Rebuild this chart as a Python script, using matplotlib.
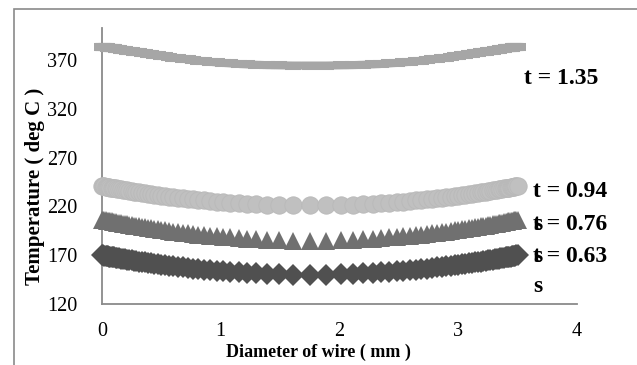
import matplotlib
matplotlib.use("Agg")
import matplotlib.pyplot as plt
from matplotlib.patches import Rectangle

# ---- data ----
diameter_left = [0, 0.01, 0.02, 0.03, 0.04, 0.05, 0.06, 0.07, 0.08, 0.09, 0.10,
                 0.115, 0.13, 0.145, 0.16, 0.175, 0.19, 0.21, 0.23, 0.25, 0.27, 0.29, 0.31,
                 0.335, 0.36, 0.385, 0.41, 0.44, 0.47, 0.50, 0.53, 0.565, 0.60, 0.64, 0.68,
                 0.72, 0.765, 0.81, 0.86, 0.91, 0.965, 1.02, 1.08, 1.15, 1.22, 1.30, 1.39,
                 1.49, 1.61, 1.75]
diameter_right = [1.89, 2.01, 2.11, 2.20, 2.28, 2.35, 2.42, 2.48, 2.535, 2.59, 2.64, 2.69,
                  2.735, 2.78, 2.82, 2.86, 2.90, 2.935, 2.97, 3.00, 3.03, 3.06, 3.09, 3.115,
                  3.14, 3.165, 3.19, 3.21, 3.23, 3.25, 3.27, 3.29, 3.31, 3.325, 3.34, 3.355,
                  3.37, 3.385, 3.40, 3.41, 3.42, 3.43, 3.44, 3.45, 3.46, 3.47, 3.48, 3.49, 3.50]

t135_left = [383.5, 383.4, 383.3, 383.2, 383.1, 383.0, 382.9, 382.7, 382.5, 382.3, 382.1,
             381.8, 381.5, 381.2, 380.9, 380.6, 380.3, 379.9, 379.5, 379.1, 378.7, 378.3,
             377.9, 377.4, 376.9, 376.5, 376.0, 375.4, 374.9, 374.3, 373.8, 373.2, 372.6,
             372.0, 371.4, 370.8, 370.1, 369.5, 368.9, 368.3, 367.7, 367.2, 366.7, 366.1,
             365.7, 365.3, 364.9, 364.7, 364.5, 364.5]
t135_right = [364.5, 364.7, 364.9, 365.3, 365.7, 366.1, 366.7, 367.2, 367.7, 368.3, 368.9,
              369.5, 370.1, 370.8, 371.4, 372.0, 372.6, 373.2, 373.8, 374.3, 374.9, 375.4,
              376.0, 376.5, 376.9, 377.4, 377.9, 378.3, 378.7, 379.1, 379.5, 379.9, 380.3,
              380.6, 380.9, 381.2, 381.5, 381.8, 382.1, 382.3, 382.5, 382.7, 382.9, 383.0,
              383.1, 383.2, 383.3, 383.4, 383.5]

t094_left = [241.0, 240.8, 240.6, 240.3, 240.1, 239.9, 239.7, 239.4, 239.2, 239.0, 238.8,
             238.5, 238.1, 237.8, 237.5, 237.2, 236.9, 236.5, 236.1, 235.7, 235.3, 234.9,
             234.5, 234.1, 233.6, 233.2, 232.7, 232.2, 231.7, 231.2, 230.7, 230.2, 229.6,
             229.1, 228.5, 227.9, 227.3, 226.8, 226.2, 225.6, 225.0, 224.5, 223.9, 223.4,
             222.8, 222.3, 221.9, 221.4, 221.1, 221.0]
t094_right = [221.1, 221.4, 221.9, 222.3, 222.8, 223.4, 223.9, 224.5, 225.0, 225.6, 226.2,
              226.8, 227.3, 227.9, 228.5, 229.1, 229.6, 230.2, 230.7, 231.2, 231.7, 232.2,
              232.7, 233.2, 233.6, 234.1, 234.5, 234.9, 235.3, 235.7, 236.1, 236.5, 236.9,
              237.2, 237.5, 237.8, 238.1, 238.5, 238.8, 239.0, 239.2, 239.4, 239.7, 239.9,
              240.1, 240.3, 240.6, 240.8, 241.0]

t076_left = [206.5, 206.3, 206.0, 205.8, 205.5, 205.3, 205.1, 204.8, 204.6, 204.4, 204.1,
             203.8, 203.4, 203.1, 202.8, 202.4, 202.1, 201.7, 201.2, 200.8, 200.4, 200.0,
             199.6, 199.1, 198.6, 198.1, 197.6, 197.1, 196.5, 196.0, 195.5, 194.9, 194.3,
             193.7, 193.0, 192.5, 191.8, 191.2, 190.6, 190.0, 189.3, 188.7, 188.2, 187.5,
             187.0, 186.4, 185.9, 185.5, 185.1, 185.0]
t076_right = [185.1, 185.5, 185.9, 186.4, 187.0, 187.5, 188.2, 188.7, 189.3, 190.0, 190.6,
              191.2, 191.8, 192.5, 193.0, 193.7, 194.3, 194.9, 195.5, 196.0, 196.5, 197.1,
              197.6, 198.1, 198.6, 199.1, 199.6, 200.0, 200.4, 200.8, 201.2, 201.7, 202.1,
              202.4, 202.8, 203.1, 203.4, 203.8, 204.1, 204.4, 204.6, 204.8, 205.1, 205.3,
              205.5, 205.8, 206.0, 206.3, 206.5]

t063_left = [170.0, 169.8, 169.6, 169.3, 169.1, 168.9, 168.7, 168.4, 168.2, 168.0, 167.8,
             167.5, 167.1, 166.8, 166.5, 166.2, 165.9, 165.5, 165.1, 164.7, 164.3, 163.9,
             163.5, 163.1, 162.6, 162.2, 161.7, 161.2, 160.7, 160.2, 159.7, 159.2, 158.6,
             158.1, 157.5, 156.9, 156.3, 155.8, 155.2, 154.6, 154.0, 153.5, 152.9, 152.4,
             151.8, 151.3, 150.9, 150.4, 150.1, 150.0]
t063_right = [150.1, 150.4, 150.9, 151.3, 151.8, 152.4, 152.9, 153.5, 154.0, 154.6, 155.2,
              155.8, 156.3, 156.9, 157.5, 158.1, 158.6, 159.2, 159.7, 160.2, 160.7, 161.2,
              161.7, 162.2, 162.6, 163.1, 163.5, 163.9, 164.3, 164.7, 165.1, 165.5, 165.9,
              166.2, 166.5, 166.8, 167.1, 167.5, 167.8, 168.0, 168.2, 168.4, 168.7, 168.9,
              169.1, 169.3, 169.6, 169.8, 170.0]

diameter = diameter_left + diameter_right
temp_t135 = t135_left + t135_right
temp_t094 = t094_left + t094_right
temp_t076 = t076_left + t076_right
temp_t063 = t063_left + t063_right

x_ticks = [0, 1, 2, 3, 4]
y_ticks = [120, 170, 220, 270, 320, 370]
labels = ["t = 1.35", "t = 0.94", "t = 0.76", "t = 0.63"]

W, H = 637, 365
plt.rcParams['font.family'] = ['Liberation Serif', 'DejaVu Serif']

fig = plt.figure(figsize=(W / 100, H / 100), dpi=100)
fig.patch.set_facecolor('white')

# outer chart border (cropped at right/bottom)
fig.patches.append(Rectangle((14 / W, -0.1), 1.2, 1.1 - 9 / H, transform=fig.transFigure,
                             fill=False, edgecolor='#8a8a8a', linewidth=1.2))

ax = fig.add_axes([102 / W, (H - 304) / H, (577 - 102) / W, (304 - 28) / H])
ax.set_xlim(0, 4)
ax.set_ylim(120, 403)

ax.plot(diameter, temp_t135, color='#a6a6a6', lw=5.8, marker='_', ms=12, mew=5.8,
        solid_capstyle='butt', zorder=3, clip_on=False)
ax.plot(diameter, temp_t094, color='#c0c0c0', lw=0, marker='o', ms=12.5, mec='#b9b9b9',
        mew=0.6, zorder=3, clip_on=False)
ax.plot(diameter, temp_t076, color='#707070', lw=0, marker='^', ms=13, mew=0,
        zorder=3, clip_on=False)
ax.plot(diameter, temp_t063, color='#505050', lw=0, marker='D', ms=10.8, mew=0,
        zorder=3, clip_on=False)

for s in ['top', 'right']:
    ax.spines[s].set_visible(False)
for s in ['left', 'bottom']:
    ax.spines[s].set_color('#8a8a8a')
    ax.spines[s].set_linewidth(1.3)

ax.set_xticks(x_ticks)
ax.set_yticks(y_ticks)
ax.tick_params(axis='both', length=0, labelsize=14.5)
ax.tick_params(axis='y', pad=18)
ax.tick_params(axis='x', pad=13)

fig.text(318 / W, 1 - 352 / H, "Diameter of wire ( mm )", ha='center', va='center',
         fontsize=13, fontweight='bold')
fig.text(35 / W, 1 - 186 / H, "Temperature ( deg C )", ha='center', va='center',
         rotation=90, fontsize=15, fontweight='bold')

# series labels (the wrapped "s" of each overlaps the next line, as in the original)
label_pos = [(524, 78), (533, 192), (533, 224), (533, 257)]
for (px, py), lab in zip(label_pos, labels):
    fig.text(px / W, 1 - py / H, lab, ha='left', va='center', fontsize=17, fontweight='bold')
for (px, py) in [(533, 224), (533, 257), (533, 286)]:
    fig.text(px / W, 1 - py / H, "s", ha='left', va='center', fontsize=17, fontweight='bold')

fig.savefig("out.png", dpi=100, facecolor='white')
